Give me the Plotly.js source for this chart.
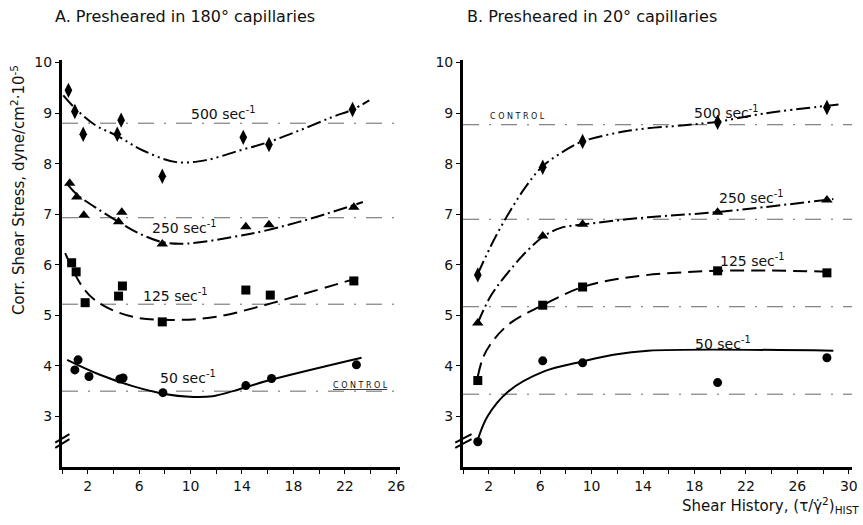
<!DOCTYPE html>
<html><head><meta charset="utf-8">
<script src="https://cdn.plot.ly/plotly-3.0.1.min.js"></script>
<style>html,body{margin:0;padding:0;background:#fff}#c{width:863px;height:525px}</style>
</head><body><div id="c"></div>
<script>
// Panel A: presheared in 180° capillaries (data points)
const xA500 = [0.5,1.0,1.65,4.3,4.6,7.8,14.1,16.1,22.6];
const yA500 = [9.45,9.03,8.58,8.58,8.86,7.75,8.52,8.38,9.07];
const xA250 = [0.6,1.15,1.7,4.4,4.65,7.8,14.3,16.1,22.7];
const yA250 = [7.61,7.34,6.98,6.85,7.04,6.41,6.75,6.79,7.14];
const xA125 = [0.75,1.1,1.8,4.4,4.7,7.8,14.3,16.2,22.7];
const yA125 = [6.04,5.86,5.25,5.38,5.58,4.87,5.5,5.4,5.68];
const xA50 = [1.0,1.25,2.1,4.5,4.75,7.85,14.3,16.3,22.9];
const yA50 = [3.92,4.12,3.79,3.74,3.76,3.47,3.61,3.75,4.02];
// Panel A fitted curves
const cxA500 = [0.1,1.0,2.6,4.3,6.3,8.9,11.2,13.8,16.1,18.5,21,22.6,23.9];
const cyA500 = [9.35,9.1,8.76,8.55,8.26,8.03,8.07,8.26,8.43,8.66,8.92,9.07,9.25];
const cxA250 = [0.4,1.2,2.5,4.2,6,7.8,9.7,13.3,15.9,19.7,23.4];
const cyA250 = [7.6,7.38,7.15,6.88,6.62,6.45,6.42,6.55,6.68,6.94,7.24];
const cxA125 = [0.25,1.6,2.9,5.5,8.9,12,15.3,18.5,23.3];
const cyA125 = [6.23,5.56,5.24,4.97,4.91,4.97,5.17,5.4,5.76];
const cxA50 = [0.4,2.9,5.5,8.1,9.9,11.7,13.3,15.9,23.3];
const cyA50 = [4.12,3.83,3.6,3.44,3.39,3.4,3.5,3.7,4.16];
const ctrlA = [8.8,6.93,5.22,3.5];
const ctrlAx = [0,26.3];

// Panel B: presheared in 20° capillaries
const xB = [1.15,6.2,9.3,19.8,28.3];
const yB500 = [5.8,7.93,8.44,8.82,9.11];
const yB250 = [4.85,6.57,6.8,7.04,7.28];
const yB125 = [3.71,5.2,5.56,5.88,5.84];
const yB50 = [2.5,4.1,4.06,3.67,4.16];
const cxB500 = [1.15,2.4,3.7,4.9,6.2,8.2,9.3,13.1,17.2,19.8,23.4,29.2];
const cyB500 = [5.82,6.49,7.08,7.55,7.95,8.3,8.44,8.66,8.76,8.83,8.99,9.17];
const cxB250 = [1.15,2.2,4.0,5.05,6.2,7.6,9.4,14.4,19.7,28.8];
const cyB250 = [4.85,5.4,6.0,6.29,6.55,6.73,6.8,6.94,7.04,7.3];
const cxB125 = [1.15,1.6,2.4,3.7,6.2,9.3,13.1,19.8,28.8];
const cyB125 = [3.79,4.19,4.52,4.85,5.2,5.56,5.76,5.88,5.86];
const cxB50 = [1.15,1.9,3.5,6.3,9.2,11.7,14.4,28.8];
const cyB50 = [2.54,3.0,3.49,3.89,4.08,4.22,4.3,4.3];
const ctrlB = [8.77,6.9,5.17,3.44];
const ctrlBx = [0,30.5];

const xTicks = [2,6,10,14,18,22,26,30];
const xMinor = [0,4,8,12,16,20,24,28];
const yTicks = [3,4,5,6,7,8,9,10];

const FONT = 'DejaVu Sans, sans-serif';
const dashes = {
  r500: '14px,4px,2px,4px,2px,4px',
  r250: '14px,4px,2px,4px',
  r125: '14px,7px',
  r50: 'solid',
  ctrl: '16px,10px,2px,10px'
};
const traces = [];
function ctrl(xs, v, xa, ya){
  traces.push({x: xs, y: [v, v], xaxis: xa, yaxis: ya, mode: 'lines', hoverinfo: 'skip',
    line: {color: '#666', width: 1, dash: dashes.ctrl}, showlegend: false});
}
ctrlA.forEach(v => ctrl(ctrlAx, v, 'x', 'y'));
ctrlB.forEach(v => ctrl(ctrlBx, v, 'x2', 'y2'));
function curve(xs, ys, dash, xa, ya){
  traces.push({x: xs, y: ys, xaxis: xa, yaxis: ya, mode: 'lines', hoverinfo: 'skip',
    line: {color: '#000', width: 2, dash: dash, shape: 'spline', smoothing: 1}, showlegend: false});
}
function pts(xs, ys, sym, size, xa, ya){
  traces.push({x: xs, y: ys, xaxis: xa, yaxis: ya, mode: 'markers',
    marker: {symbol: sym, size: size, color: '#000'}, showlegend: false});
}
curve(cxA500, cyA500, dashes.r500, 'x', 'y');
curve(cxA250, cyA250, dashes.r250, 'x', 'y');
curve(cxA125, cyA125, dashes.r125, 'x', 'y');
curve(cxA50, cyA50, dashes.r50, 'x', 'y');
pts(xA500, yA500, 'diamond-tall', 11, 'x', 'y');
pts(xA250, yA250, 'triangle-up', 10, 'x', 'y');
pts(xA125, yA125, 'square', 9, 'x', 'y');
pts(xA50, yA50, 'circle', 9, 'x', 'y');
curve(cxB500, cyB500, dashes.r500, 'x2', 'y2');
curve(cxB250, cyB250, dashes.r250, 'x2', 'y2');
curve(cxB125, cyB125, dashes.r125, 'x2', 'y2');
curve(cxB50, cyB50, dashes.r50, 'x2', 'y2');
pts(xB, yB500, 'diamond-tall', 11, 'x2', 'y2');
pts(xB, yB250, 'triangle-up', 10, 'x2', 'y2');
pts(xB, yB125, 'square', 9, 'x2', 'y2');
pts(xB, yB50, 'circle', 9, 'x2', 'y2');

const tickFont = {family: FONT, size: 14, color: '#111'};
function xax(domain, range, anchor){
  return {domain: domain, range: range, anchor: anchor, showgrid: false, zeroline: false,
    showline: true, linecolor: '#000', linewidth: 3, ticks: 'outside', ticklen: 4, tickwidth: 1,
    tickcolor: '#000', tickvals: xTicks, ticktext: xTicks.map(String), tickfont: tickFont,
    minor: {tickvals: xMinor, ticklen: 4, tickcolor: '#000', ticks: 'outside'}};
}
function yax(anchor){
  return {domain: [0,1], range: [2,10.05], anchor: anchor, showgrid: false, zeroline: false,
    showline: true, linecolor: '#000', linewidth: 3, ticks: 'outside', ticklen: 4, tickwidth: 1,
    tickcolor: '#000', tickvals: yTicks, ticktext: yTicks.map(String), tickfont: tickFont};
}
const lab = (x, y, t, xr, yr, extra) => Object.assign({x: x, y: y, xref: xr, yref: yr, text: t,
  showarrow: false, xanchor: 'center', yanchor: 'middle',
  font: {family: FONT, size: 14, color: '#111'}}, extra || {});
const sec = ' sec<sup>-1</sup>';
const small = {family: FONT, size: 8, color: '#111'};
const big = {family: FONT, size: 16, color: '#111'};
const mid = {family: FONT, size: 15, color: '#111'};
const annotations = [
  lab(12.6, 9.0, '500' + sec, 'x', 'y'),
  lab(9.5, 6.75, '250' + sec, 'x', 'y'),
  lab(8.8, 5.4, '125' + sec, 'x', 'y'),
  lab(9.8, 3.78, '50' + sec, 'x', 'y'),
  lab(23.2, 3.62, '<u>C O N T R O L</u>', 'x', 'y', {font: small}),
  lab(20.5, 9.02, '500' + sec, 'x2', 'y2'),
  lab(22.4, 7.34, '250' + sec, 'x2', 'y2'),
  lab(22.5, 6.1, '125' + sec, 'x2', 'y2'),
  lab(20.2, 4.45, '50' + sec, 'x2', 'y2'),
  lab(4.2, 8.93, 'C O N T R O L', 'x2', 'y2', {font: small}),
  lab(-0.011, 1.106, 'A. Presheared in 180° capillaries', 'paper', 'paper', {xanchor: 'left', font: big}),
  lab(0.51, 1.106, 'B. Presheared in 20° capillaries', 'paper', 'paper', {xanchor: 'left', font: big}),
  lab(-0.056, 0.68, 'Corr. Shear Stress, dyne/cm<sup>2</sup>·10<sup>-5</sup>', 'paper', 'paper', {textangle: -90, font: mid}),
  lab(1.012, -0.095, 'Shear History, (τ/γ̇<sup>2</sup>)<sub>HIST</sub>', 'paper', 'paper', {xanchor: 'right', font: mid})
];
// axis-break marks
const shapes = [];
[['x domain','y'],['x2 domain','y2']].forEach(([xr, yr]) => {
  [0, 0.1].forEach(dy => {
    shapes.push({type: 'line', xref: xr, yref: yr, x0: -0.02, x1: 0.022, y0: 2.38 + dy, y1: 2.55 + dy,
      line: {color: '#000', width: 2}});
  });
});

const layout = {
  width: 863, height: 525, margin: {l: 62, r: 11, t: 60, b: 58},
  paper_bgcolor: '#fff', plot_bgcolor: '#fff',
  xaxis: xax([0, 0.428], [0, 26.3], 'y'),
  yaxis: yax('x'),
  xaxis2: xax([0.5076, 1], [0, 30.25], 'y2'),
  yaxis2: yax('x2'),
  annotations: annotations, shapes: shapes, showlegend: false
};
Plotly.newPlot('c', traces, layout, {staticPlot: true});
</script></body></html>
